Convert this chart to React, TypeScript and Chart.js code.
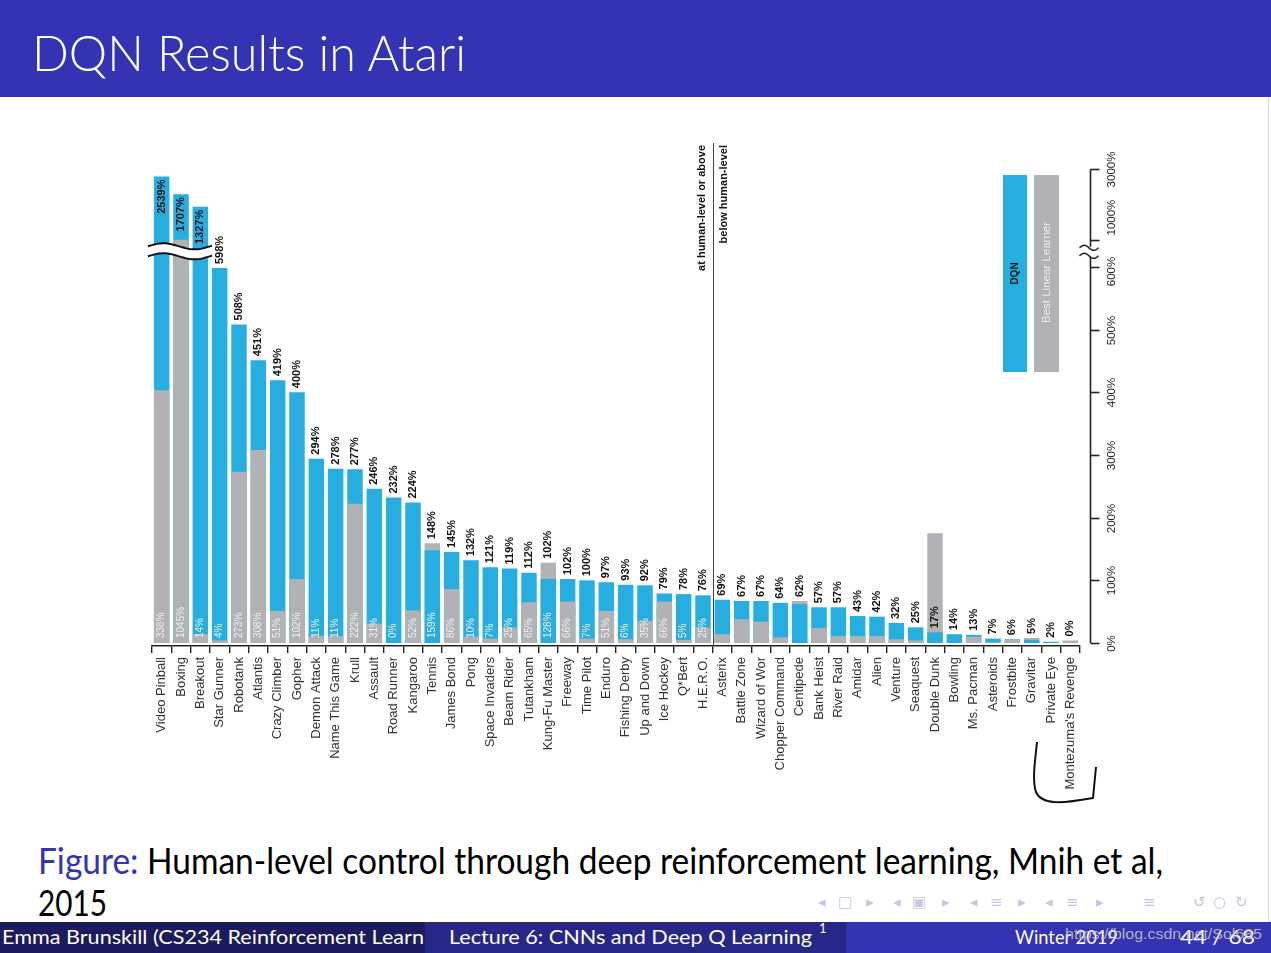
import React, { useEffect, useLayoutEffect, useRef } from 'react';
import { Chart, registerables, LinearScale } from 'chart.js';

Chart.register(...registerables);

// ---------------- DATA ----------------
const games = [
  'Video Pinball', 'Boxing', 'Breakout', 'Star Gunner', 'Robotank', 'Atlantis', 'Crazy Climber', 'Gopher',
  'Demon Attack', 'Name This Game', 'Krull', 'Assault', 'Road Runner', 'Kangaroo', 'Tennis', 'James Bond',
  'Pong', 'Space Invaders', 'Beam Rider', 'Tutankham', 'Kung-Fu Master', 'Freeway', 'Time Pilot', 'Enduro',
  'Fishing Derby', 'Up and Down', 'Ice Hockey', 'Q*Bert', 'H.E.R.O.', 'Asterix', 'Battle Zone', 'Wizard of Wor',
  'Chopper Command', 'Centipede', 'Bank Heist', 'River Raid', 'Amidar', 'Alien', 'Venture', 'Seaquest',
  'Double Dunk', 'Bowling', 'Ms. Pacman', 'Asteroids', 'Frostbite', 'Gravitar', 'Private Eye', "Montezuma's Revenge",
];

// DQN, % of human-level score
const dqnValues = [
  2539, 1707, 1327, 598, 508, 451, 419, 400, 294, 278, 277, 246, 232, 224, 148, 145,
  132, 121, 119, 112, 102, 102, 100, 97, 93, 92, 79, 78, 76, 69, 67, 67,
  64, 62, 57, 57, 43, 42, 32, 25, 17, 14, 13, 7, 6, 5, 2, 0,
];

// Best linear learner, bar heights as drawn
const linearValues = [
  403, 1000, 14, 4, 273, 308, 51, 102, 11, 11, 222, 31, 0, 52, 159, 86,
  10, 7, 25, 65, 128, 66, 7, 51, 6, 35, 66, 5, 25, 14, 38, 34,
  9, 67, 24, 11, 11, 11, 6, 4, 175, 0, 10, 1, 5, 8, 0, 4,
];

// Best linear learner labels printed at the bar foot
const linearLabels = [
  '336%', '1045%', '14%', '4%', '273%', '308%', '51%', '102%', '11%', '11%', '222%', '31%', '0%', '52%', '159%', '86%',
  '10%', '7%', '25%', '65%', '128%', '66%', '7%', '51%', '6%', '35%', '66%', '5%', '25%', '', '', '',
  '', '', '', '', '', '', '', '', '', '', '', '', '', '', '', '',
];

const humanLevelCount = 29; // games at human level or above
const yTickValues = [0, 100, 200, 300, 400, 500, 600, 1000, 3000];
const yTickLabels = ['0%', '100%', '200%', '300%', '400%', '500%', '600%', '1000%', '3000%'];
const legendLabels = ['DQN', 'Best Linear Learner'];

// ---------------- STYLE ----------------
const BLUE = '#27aee0';
const GREY = '#b1b2b5';
const CANVAS_TOP = 100;

// broken axis: linear up to 600%, short link to 1000%, compressed above
const PX_PER_PCT = 0.627;
const H600 = 600 * PX_PER_PCT;
const H1000 = H600 + 27;
const TOP_K = 2.9;
const TOP_P = 0.42;
const BASE_GAP = 3;

function heightFor(v: number): number {
  if (v <= 600) return v * PX_PER_PCT;
  if (v <= 1000) return H600 + ((v - 600) * 27) / 400;
  return H1000 + TOP_K * Math.pow(v - 1000, TOP_P);
}
function valueForHeight(h: number): number {
  if (h <= H600) return h / PX_PER_PCT;
  if (h <= H1000) return 600 + ((h - H600) * 400) / 27;
  return 1000 + Math.pow((h - H1000) / TOP_K, 1 / TOP_P);
}

class BrokenScale extends LinearScale {
  static id = 'broken';
  static defaults = LinearScale.defaults;
  getPixelForValue(value: number) {
    return this.bottom - BASE_GAP - heightFor(value);
  }
  getValueForPixel(pixel: number) {
    return valueForHeight(this.bottom - BASE_GAP - pixel);
  }
}
Chart.register(BrokenScale as any);

function rotText(ctx: CanvasRenderingContext2D, text: string, x: number, y: number, align: CanvasTextAlign) {
  ctx.save();
  ctx.translate(x, y);
  ctx.rotate(-Math.PI / 2);
  ctx.textAlign = align;
  ctx.textBaseline = 'middle';
  ctx.fillText(text, 0, 0);
  ctx.restore();
}

function wave(ctx: CanvasRenderingContext2D, x0: number, x1: number, yc: number, amp: number, period: number, reverse = false) {
  const steps = 40;
  for (let s = 0; s <= steps; s++) {
    const t = reverse ? steps - s : s;
    const x = x0 + ((x1 - x0) * t) / steps;
    const y = yc - amp * Math.sin((2 * Math.PI * (x - x0)) / period);
    if (s === 0 && !reverse) ctx.moveTo(x, y);
    else ctx.lineTo(x, y);
  }
}

const overlayPlugin = {
  id: 'overlay',
  afterDatasetsDraw(chart: any) {
    const ctx: CanvasRenderingContext2D = chart.ctx;
    const xs = chart.scales.x;
    const ys = chart.scales.y;
    const area = chart.chartArea;
    const barW = chart.getDatasetMeta(0).data[0]?.width ?? 15;

    // break band across the tall bars
    const tall = games.map((_, i) => i).filter((i) => Math.max(dqnValues[i], linearValues[i]) > 1000);
    if (tall.length) {
      const xL = xs.getPixelForValue(tall[0]) - barW / 2 - 6;
      const xR = xs.getPixelForValue(tall[tall.length - 1]) + barW / 2 + 4;
      const yc = (ys.getPixelForValue(600) + ys.getPixelForValue(1000)) / 2 - 2;
      ctx.save();
      ctx.beginPath();
      wave(ctx, xL, xR, yc - 5, 3, 62);
      wave(ctx, xL, xR, yc + 5, 3, 62, true);
      ctx.closePath();
      ctx.fillStyle = '#fff';
      ctx.fill();
      ctx.strokeStyle = '#111';
      ctx.lineWidth = 2;
      ctx.beginPath();
      wave(ctx, xL, xR, yc - 5, 3, 62);
      ctx.stroke();
      ctx.beginPath();
      wave(ctx, xL, xR, yc + 5, 3, 62);
      ctx.stroke();
      ctx.restore();
    }

    // labels
    ctx.save();
    games.forEach((_, i) => {
      const cx = xs.getPixelForValue(i);
      const d = dqnValues[i];
      const l = linearValues[i];
      if (linearLabels[i]) {
        ctx.font = '10px "Liberation Sans", Arial, sans-serif';
        ctx.fillStyle = '#f0f0f0';
        rotText(ctx, linearLabels[i], cx, ys.getPixelForValue(0) - 5, 'left');
      }
      ctx.font = 'bold 11px "Liberation Sans", Arial, sans-serif';
      ctx.fillStyle = '#111';
      const text = `${d}%`;
      if (d > 1000) {
        rotText(ctx, text, cx, ys.getPixelForValue(d) + 3, 'right');
      } else {
        const anchor = l > d && l - d < 50 ? l : d;
        rotText(ctx, text, cx, ys.getPixelForValue(anchor) - 4, 'left');
      }
    });
    ctx.restore();

    // human-level divider
    const xDiv = (xs.getPixelForValue(humanLevelCount - 1) + xs.getPixelForValue(humanLevelCount)) / 2;
    ctx.save();
    ctx.strokeStyle = '#444';
    ctx.lineWidth = 1;
    ctx.beginPath();
    ctx.moveTo(Math.round(xDiv) + 0.5, 143 - CANVAS_TOP);
    ctx.lineTo(Math.round(xDiv) + 0.5, area.bottom);
    ctx.stroke();
    ctx.font = 'bold 11px "Liberation Sans", Arial, sans-serif';
    ctx.fillStyle = '#111';
    rotText(ctx, 'at human-level or above', xDiv - 11, 145 - CANVAS_TOP, 'right');
    rotText(ctx, 'below human-level', xDiv + 11, 145 - CANVAS_TOP, 'right');
    ctx.restore();

    // legend
    ctx.save();
    const lTop = 175 - CANVAS_TOP;
    const lBot = 372 - CANVAS_TOP;
    ctx.fillStyle = BLUE;
    ctx.fillRect(1003, lTop, 24, lBot - lTop);
    ctx.fillStyle = GREY;
    ctx.fillRect(1034, lTop, 25, lBot - lTop);
    ctx.font = 'bold 10px "Liberation Sans", Arial, sans-serif';
    ctx.fillStyle = '#111';
    rotText(ctx, legendLabels[0], 1015, (lTop + lBot) / 2, 'center');
    ctx.font = '11.5px "Liberation Sans", Arial, sans-serif';
    ctx.fillStyle = '#ececec';
    rotText(ctx, legendLabels[1], 1047, (lTop + lBot) / 2 - 1, 'center');
    ctx.restore();
  },
  afterDraw(chart: any) {
    const ctx: CanvasRenderingContext2D = chart.ctx;
    const ys = chart.scales.y;
    const area = chart.chartArea;
    const ax = Math.round(area.right + 10) + 0.5;
    ctx.save();
    ctx.strokeStyle = '#222';
    ctx.lineWidth = 1.6;
    const pTop = ys.getPixelForValue(3000);
    const p1000 = ys.getPixelForValue(1000);
    const p600 = ys.getPixelForValue(600);
    const p0 = ys.getPixelForValue(0);
    const gapTop = p1000 + 7;
    const gapBot = p600 - 10;
    ctx.beginPath();
    ctx.moveTo(ax, pTop);
    ctx.lineTo(ax, gapTop);
    ctx.moveTo(ax, gapBot);
    ctx.lineTo(ax, p0);
    ctx.stroke();
    const pix = yTickValues.map((v) => Math.round(ys.getPixelForValue(v)) + 0.5);
    yTickValues.forEach((_, i) => {
      const py = pix[i];
      ctx.beginPath();
      ctx.moveTo(ax, py);
      ctx.lineTo(ax + 9, py);
      ctx.stroke();
      ctx.font = '11.5px "Liberation Sans", Arial, sans-serif';
      ctx.fillStyle = '#222';
      const crowdedBelow = i > 0 && pix[i - 1] - py < 40;
      if (crowdedBelow) rotText(ctx, yTickLabels[i], ax + 21, py - 5, 'left');
      else rotText(ctx, yTickLabels[i], ax + 21, py + (i < pix.length - 1 && py - pix[i + 1] < 40 ? 4 : 0), 'center');
    });
    // break marks
    ctx.lineWidth = 1.5;
    ctx.beginPath();
    wave(ctx, ax - 11, ax + 8, gapTop + 1, 2.5, 19);
    ctx.stroke();
    ctx.beginPath();
    wave(ctx, ax - 11, ax + 8, gapBot - 1, 2.5, 19);
    ctx.stroke();

    // hand-drawn bracket
    ctx.lineWidth = 2;
    ctx.strokeStyle = '#111';
    ctx.beginPath();
    ctx.moveTo(1037, 742 - CANVAS_TOP);
    ctx.bezierCurveTo(1035, 762 - CANVAS_TOP, 1032, 780 - CANVAS_TOP, 1036, 792 - CANVAS_TOP);
    ctx.bezierCurveTo(1042, 806 - CANVAS_TOP, 1065, 803 - CANVAS_TOP, 1093, 798 - CANVAS_TOP);
    ctx.lineTo(1096, 767 - CANVAS_TOP);
    ctx.stroke();
    ctx.restore();
  },
};

function Fit({ width, children, style }: { width: number; children: React.ReactNode; style?: React.CSSProperties }) {
  const ref = useRef<HTMLSpanElement>(null);
  useLayoutEffect(() => {
    const el = ref.current;
    if (!el) return;
    el.style.transform = 'none';
    const w = el.getBoundingClientRect().width;
    if (w > 0) el.style.transform = `scaleX(${width / w})`;
  }, [width]);
  return (
    <span ref={ref} style={{ display: 'inline-block', whiteSpace: 'nowrap', transformOrigin: '0 0', ...style }}>
      {children}
    </span>
  );
}

const NAV: [string, number][] = [
  ['◂', 818], ['□', 838], ['▸', 866], ['◂', 893], ['▣', 912], ['▸', 942], ['◂', 970], ['≡', 990], ['▸', 1018],
  ['◂', 1045], ['≡', 1066], ['▸', 1096], ['≡', 1143], ['↺', 1193], ['○', 1213], ['↻', 1235],
];

export default function App() {
  const canvasRef = useRef<HTMLCanvasElement>(null);

  useEffect(() => {
    const frontVals = games.map((_, i) => Math.min(dqnValues[i], linearValues[i]));
    const backVals = games.map((_, i) => Math.max(dqnValues[i], linearValues[i]));
    const frontColors = games.map((_, i) => (dqnValues[i] >= linearValues[i] ? GREY : BLUE));
    const backColors = games.map((_, i) => (dqnValues[i] >= linearValues[i] ? BLUE : GREY));

    const chart = new Chart(canvasRef.current as HTMLCanvasElement, {
      type: 'bar',
      data: {
        labels: games,
        datasets: [
          {
            label: 'front',
            data: frontVals,
            backgroundColor: frontColors,
            grouped: false,
            order: 0,
            barPercentage: 0.8,
            categoryPercentage: 1,
          } as any,
          {
            label: 'back',
            data: backVals,
            backgroundColor: backColors,
            grouped: false,
            order: 1,
            barPercentage: 0.8,
            categoryPercentage: 1,
          } as any,
        ],
      },
      options: {
        responsive: false,
        animation: false,
        events: [],
        layout: { padding: { left: 152, right: 191, top: 40, bottom: 24 } },
        plugins: { legend: { display: false }, tooltip: { enabled: false } },
        scales: {
          x: {
            type: 'category',
            offset: true,
            afterFit: (s: any) => {
              s.height = 150;
            },
            grid: { offset: true, drawOnChartArea: false, tickLength: 7, color: '#222', lineWidth: 1.4 },
            border: { display: true, color: '#222', width: 1.6 },
            ticks: {
              autoSkip: false,
              minRotation: 90,
              maxRotation: 90,
              padding: 4,
              color: '#333',
              font: { family: '"Liberation Sans", Arial, sans-serif', size: 13 },
            },
          },
          y: {
            type: 'broken' as any,
            display: false,
            min: 0,
            max: 3000,
          },
        },
      },
      plugins: [overlayPlugin],
    } as any);
    return () => chart.destroy();
  }, []);

  const sans = 'Lato, "Open Sans", sans-serif';

  return (
    <div style={{ position: 'fixed', left: 0, top: 0, width: 1271, height: 953, background: '#fff', overflow: 'hidden' }}>
      <div style={{ position: 'absolute', left: 0, top: 0, width: 1271, height: 97, background: '#3333b3' }}>
        <div style={{ position: 'absolute', left: 32, top: 27, fontFamily: sans, fontWeight: 300, fontSize: 50, lineHeight: '50px', color: '#fff' }}>
          <Fit width={434}>DQN Results in Atari</Fit>
        </div>
      </div>
      <div style={{ position: 'absolute', left: 1268, top: 97, width: 1, height: 825, background: '#d6d6d6' }} />
      <canvas
        ref={canvasRef}
        width={1271}
        height={720}
        style={{ position: 'absolute', left: 0, top: CANVAS_TOP, width: 1271, height: 720 }}
      />
      <div style={{ position: 'absolute', left: 38, top: 842, fontFamily: sans, fontSize: 36, lineHeight: '36px', color: '#000' }}>
        <Fit width={1125}>
          <span style={{ color: '#3333b3' }}>Figure:</span> Human-level control through deep reinforcement learning, Mnih et al,
        </Fit>
      </div>
      <div style={{ position: 'absolute', left: 38, top: 884, fontFamily: sans, fontSize: 36, lineHeight: '36px', color: '#000' }}>
        <Fit width={69}>2015</Fit>
      </div>
      {NAV.map(([g, x], i) => (
        <div
          key={i}
          style={{ position: 'absolute', left: x, top: 893, fontFamily: '"DejaVu Sans", sans-serif', fontSize: 15, lineHeight: '18px', color: '#c6c6de' }}
        >
          {g}
        </div>
      ))}
      <div style={{ position: 'absolute', left: 0, top: 922, width: 425, height: 31, background: '#1b1b5e', overflow: 'hidden' }}>
        <div style={{ position: 'absolute', left: 2, top: 4, fontFamily: sans, fontSize: 20, lineHeight: '20px', color: '#fff' }}>
          <Fit width={422}>Emma Brunskill (CS234 Reinforcement Learn</Fit>
        </div>
      </div>
      <div style={{ position: 'absolute', left: 425, top: 922, width: 421, height: 31, background: '#272788' }}>
        <div style={{ position: 'absolute', left: 24, top: 4, fontFamily: sans, fontSize: 20, lineHeight: '20px', color: '#fff' }}>
          <Fit width={363}>Lecture 6: CNNs and Deep Q Learning</Fit>
        </div>
        <div style={{ position: 'absolute', left: 394, top: 0, fontFamily: sans, fontSize: 13, lineHeight: '13px', color: '#fff' }}>1</div>
      </div>
      <div style={{ position: 'absolute', left: 846, top: 922, width: 425, height: 31, background: '#3333b3' }}>
        <div style={{ position: 'absolute', left: 169, top: 4, fontFamily: sans, fontSize: 20, lineHeight: '20px', color: '#fff' }}>
          <Fit width={103}>Winter 2019</Fit>
        </div>
        <div style={{ position: 'absolute', left: 334, top: 4, fontFamily: sans, fontSize: 20, lineHeight: '20px', color: '#fff' }}>
          <Fit width={75}>44 / 68</Fit>
        </div>
        <div style={{ position: 'absolute', left: 219, top: 4, fontFamily: '"Liberation Sans", Arial, sans-serif', fontSize: 15, lineHeight: '16px', color: 'rgba(200,200,200,0.85)' }}>
          <Fit width={197}>https://blog.csdn.net/Sol685</Fit>
        </div>
      </div>
    </div>
  );
}
